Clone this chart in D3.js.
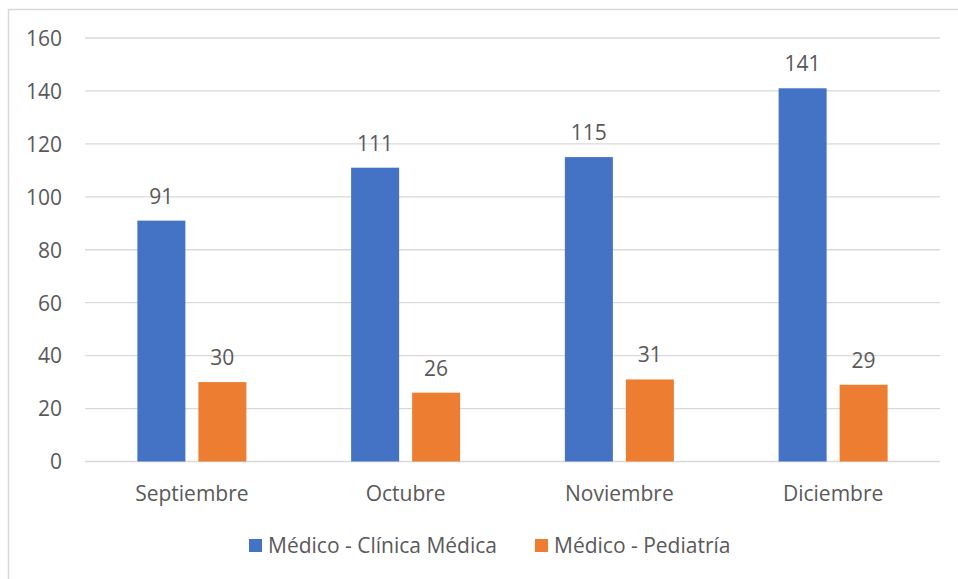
<!DOCTYPE html>
<html>
<head>
<meta charset="utf-8">
<script src="https://cdn.jsdelivr.net/npm/d3@7"></script>
<style>
  body { margin: 0; background: #fff; }
  text { font-family: "Open Sans", Lato, sans-serif; fill: #595959; }
</style>
</head>
<body>
<div class="chart_container"></div>
<script>
// data
var months = ["Septiembre", "Octubre", "Noviembre", "Diciembre"];
var series = ["Médico - Clínica Médica", "Médico - Pediatría"];
var clinica = [91, 111, 115, 141];
var pediatria = [30, 26, 31, 29];
var yTicks = [0, 20, 40, 60, 80, 100, 120, 140, 160];
var colors = ["#4472C4", "#ED7D31"];

var w = 958, h = 579;
var fs = '21px';
var svg = d3.select('.chart_container')
    .append('svg')
    .attr('width', w)
    .attr('height', h);

// chart frame (right/bottom edges fall outside the picture)
svg.append('rect')
    .attr('x', 8.5).attr('y', 9.5)
    .attr('width', 960).attr('height', 600)
    .attr('fill', 'none')
    .attr('stroke', '#d9d9d9')
    .attr('stroke-width', 1.5);

var p_left = 85, p_right = 940, p_top = 38, p_bottom = 461.5;

var x0 = d3.scaleBand()
    .domain(months)
    .range([p_left, p_right]);

var x1 = d3.scaleBand()
    .domain(series)
    .range([x0.bandwidth() / 2 - 54.5, x0.bandwidth() / 2 + 54.5])
    .paddingInner(13 / 61);

var y = d3.scaleLinear()
    .domain([0, 160])
    .range([p_bottom, p_top]);

// gridlines
svg.append('g')
    .selectAll('line')
    .data(yTicks)
    .enter()
    .append('line')
    .attr('x1', p_left).attr('x2', p_right)
    .attr('y1', d => y(d)).attr('y2', d => y(d))
    .attr('stroke', '#d9d9d9')
    .attr('stroke-width', 1.3);

// y axis labels
var yAxis = d3.axisLeft(y).tickValues(yTicks).tickSize(0).tickPadding(0);
var yg = svg.append('g')
    .attr('transform', 'translate(62,0)')
    .call(yAxis);
yg.select('.domain').remove();
yg.attr('font-family', null).attr('font-size', null);
yg.selectAll('text')
    .style('font-size', fs)
    .attr('fill', '#595959')
    .attr('dy', '0.35em');

// x axis labels
var xAxis = d3.axisBottom(x0).tickSize(0).tickPadding(0);
var xg = svg.append('g')
    .attr('transform', 'translate(0,' + 484 + ')')
    .call(xAxis);
xg.select('.domain').remove();
xg.attr('font-family', null).attr('font-size', null);
xg.selectAll('text')
    .style('font-size', fs)
    .attr('fill', '#595959')
    .attr('dy', '0.8em');

// bars
var rows = months.map((m, i) => ({ month: m, values: [clinica[i], pediatria[i]] }));
var groups = svg.selectAll('.month')
    .data(rows)
    .enter()
    .append('g')
    .attr('class', 'month')
    .attr('transform', d => 'translate(' + x0(d.month) + ',0)');

var cells = groups.selectAll('.bar')
    .data(d => d.values.map((v, j) => ({ key: series[j], value: v, j: j })))
    .enter();

cells.append('rect')
    .attr('class', 'bar')
    .attr('x', d => x1(d.key))
    .attr('width', x1.bandwidth())
    .attr('y', d => y(d.value))
    .attr('height', d => y(0) - y(d.value))
    .attr('fill', d => colors[d.j]);

cells.append('text')
    .attr('x', d => x1(d.key) + x1.bandwidth() / 2)
    .attr('y', d => y(d.value) - 17)
    .attr('text-anchor', 'middle')
    .style('font-size', fs)
    .text(d => d.value);

// legend
var legendX = [249, 535];
var legend = svg.selectAll('.legend')
    .data(series)
    .enter()
    .append('g')
    .attr('class', 'legend')
    .attr('transform', (d, i) => 'translate(' + legendX[i] + ',539)');
legend.append('rect')
    .attr('width', 13).attr('height', 13)
    .attr('fill', (d, i) => colors[i]);
legend.append('text')
    .attr('x', 19).attr('y', 14)
    .style('font-size', fs)
    .text(d => d);
</script>
</body>
</html>
